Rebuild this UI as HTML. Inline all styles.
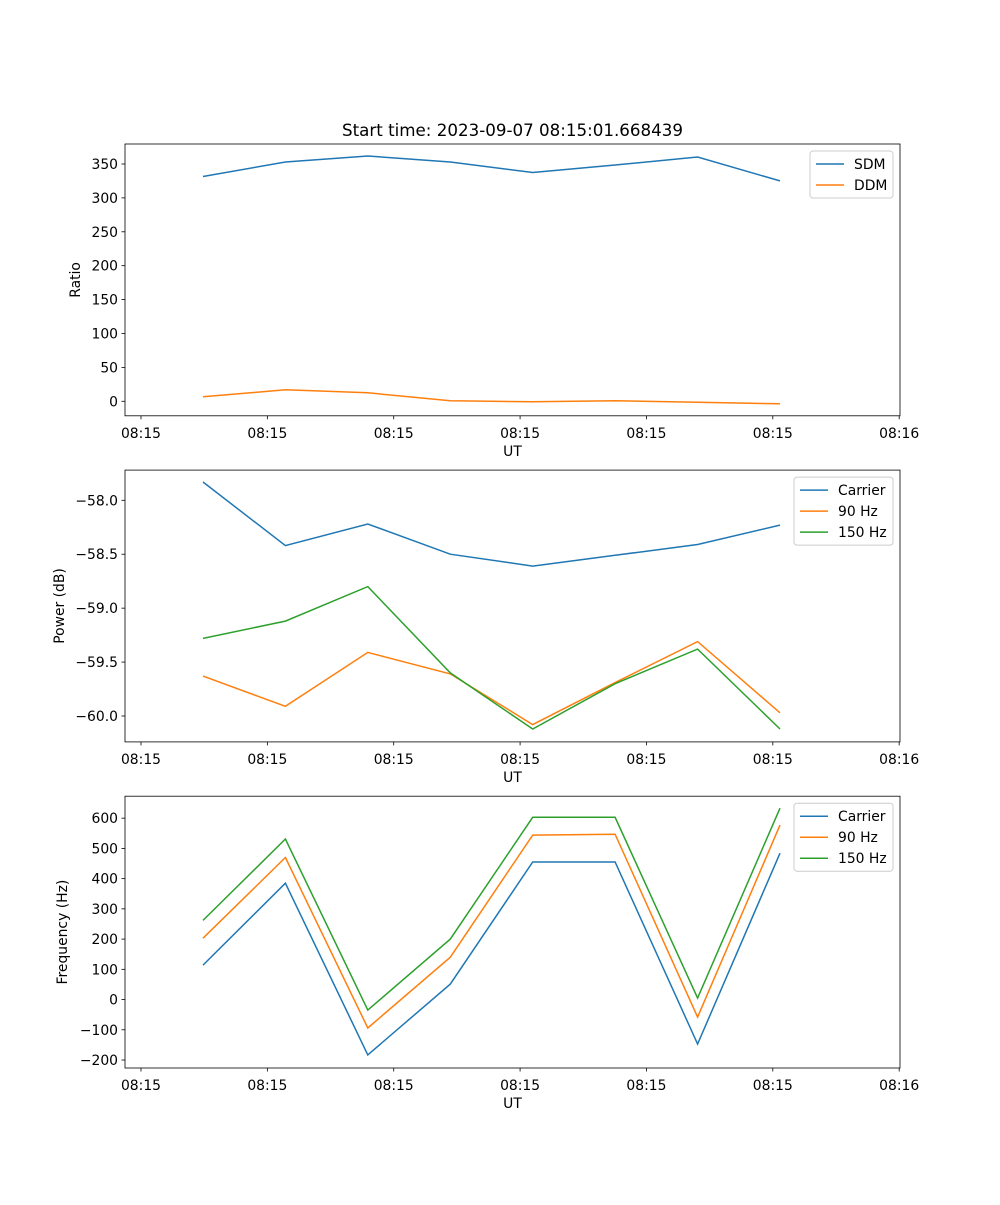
<!DOCTYPE html>
<html><head><meta charset="utf-8"><style>
body{margin:0;background:#fff;}
svg text{font-family:"DejaVu Sans","Liberation Sans",sans-serif;fill:#000;}
</style></head><body>
<svg id="fig" width="1000" height="1200" xmlns="http://www.w3.org/2000/svg"></svg>
<script>
const xTickVals=[-0.752,0.781,2.314,3.847,5.380,6.913,8.446];
const xTickLabels=["08:15","08:15","08:15","08:15","08:15","08:15","08:16"];
const pointIdx=[0,1,2,3,4,5,6,7];
const sdm=[331.6,353,361.8,353,337.5,348.5,360.3,325];
const ddm=[6.6,17,12.5,0.7,-0.7,0.7,-1.5,-3.7];
const powCarrier=[-57.83,-58.42,-58.22,-58.5,-58.61,-58.51,-58.41,-58.23];
const pow90=[-59.63,-59.91,-59.41,-59.61,-60.08,-59.69,-59.31,-59.97];
const pow150=[-59.28,-59.12,-58.80,-59.60,-60.12,-59.70,-59.38,-60.12];
const freqCarrier=[114,385,-183,51,455,455,-147,484];
const freq90=[203,470,-94,140,544,547,-58,577];
const freq150=[262,531,-35,200,603,603,5,633];
const ratioTicks=[0,50,100,150,200,250,300,350];
const powerTicks=[-58.0,-58.5,-59.0,-59.5,-60.0];
const freqTicks=[600,500,400,300,200,100,0,-100,-200];

const NS="http://www.w3.org/2000/svg";
const svg=document.getElementById('fig');
function mk(t,a,p){const e=document.createElementNS(NS,t);for(const k in a)e.setAttribute(k,a[k]);(p||svg).appendChild(e);return e;}
const X0=125,X1=900,xMin=-0.946,xMax=8.456;
function xs(v){return X0+(v-xMin)/(xMax-xMin)*(X1-X0);}
const C=['#1f77b4','#ff7f0e','#2ca02c'];

function panel(name,top,bot,yMin,yMax,yTicks,fmt,ylabel,series,labels,legW){
  const g=mk('g',{});
  
  
  const ys=v=>bot-(v-yMin)/(yMax-yMin)*(bot-top);
  series.forEach((s,si)=>{
    const pts=s.map((v,i)=>xs(pointIdx[i]).toFixed(1)+','+ys(v).toFixed(1)).join(' ');
    const pl=mk('polyline',{points:pts,fill:'none',stroke:C[si],'stroke-width':1.5},g);
    
    
  });
  const fr=mk('rect',{x:X0,y:top,width:X1-X0,height:bot-top,fill:'none',stroke:'#000','stroke-width':0.8},g);
  
  
  xTickVals.forEach((v,i)=>{
    const x=xs(v);
    mk('line',{x1:x,x2:x,y1:bot,y2:bot+3.5,stroke:'#000','stroke-width':0.8},g);
    const t=mk('text',{x:x,y:bot+22,'font-size':13.9,'text-anchor':'middle'},g);
    t.textContent=xTickLabels[i];
    
    
  });
  yTicks.forEach(v=>{
    const y=ys(v);
    mk('line',{x1:X0-3.5,x2:X0,y1:y,y2:y,stroke:'#000','stroke-width':0.8},g);
    const t=mk('text',{x:X0-7,y:y+5,'font-size':13.9,'text-anchor':'end'},g);
    t.textContent=fmt(v);
    
    
  });
  const xl=mk('text',{x:(X0+X1)/2,y:bot+40,'font-size':13.9,'text-anchor':'middle'},g);
  xl.textContent='UT';
  
  
  const yl=mk('text',{x:0,y:0,'font-size':13.9,'text-anchor':'middle',transform:`translate(${ylabel[1]},${(top+bot)/2}) rotate(-90)`},g);
  yl.textContent=ylabel[0];
  
  
  const lx=X1-7-legW,ly=top+7,lh=labels.length*21+5;
  const lg=mk('g',{},g);
  
  
  mk('rect',{x:lx,y:ly,width:legW,height:lh,rx:3,fill:'#fff','fill-opacity':0.8,stroke:'#ccc'},lg);
  labels.forEach((l,i)=>{
    const yy=ly+13+i*21;
    mk('line',{x1:lx+6,x2:lx+34,y1:yy,y2:yy,stroke:C[i],'stroke-width':1.5},lg);
    const t=mk('text',{x:lx+44,y:yy+5,'font-size':13.9},lg);
    t.textContent=l;
    
    
  });
}
const title=mk('text',{x:512.5,y:136,'font-size':16.7,'text-anchor':'middle'});
title.textContent='Start time: 2023-09-07 08:15:01.668439';


panel('ratio-panel',144,415.8,-21.4,379.5,ratioTicks,v=>String(v),['Ratio',80],[sdm,ddm],['SDM','DDM'],83);
panel('power-panel',470.1,741.9,-60.24,-57.72,powerTicks,v=>'\u2212'+Math.abs(v).toFixed(1),['Power (dB)',64],[powCarrier,pow90,pow150],['Carrier','90 Hz','150 Hz'],99);
panel('frequency-panel',796.2,1068,-226.4,672.7,freqTicks,v=>(v<0?'\u2212':'')+Math.abs(v),['Frequency (Hz)',67],[freqCarrier,freq90,freq150],['Carrier','90 Hz','150 Hz'],99);
</script>
</body></html>
